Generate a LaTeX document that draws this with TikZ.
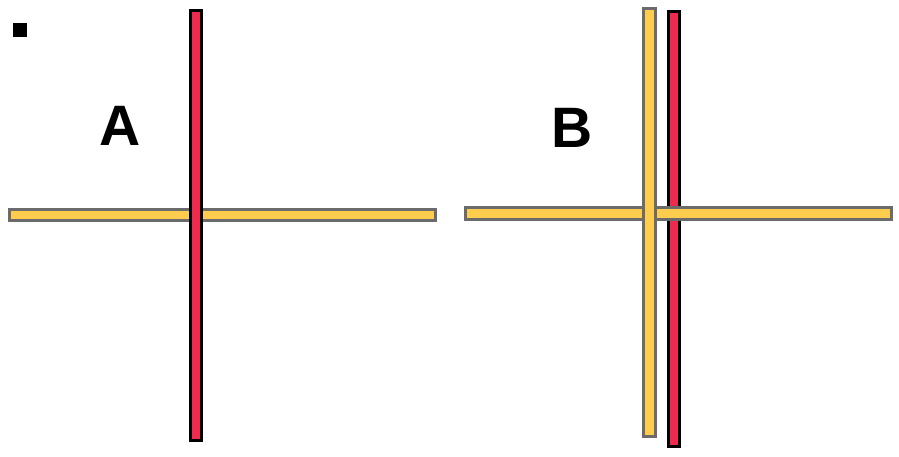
\documentclass[tikz,border=0pt]{standalone}
\usepackage{fontspec}
\setmainfont{Liberation Sans}
\usepackage{tikz}

\definecolor{barYellow}{HTML}{FFCC4D}
\definecolor{barRed}{HTML}{EE2B4F}
\definecolor{rimGray}{HTML}{6B6B6B}

\begin{document}
\begin{tikzpicture}[x=1pt, y=-1pt,
  ybar/.style={draw=rimGray, fill=barYellow, line width=2.6pt},
  rbar/.style={draw=black, fill=barRed, line width=2.6pt},
  letter/.style={font=\fontsize{57}{60}\selectfont\bfseries, inner sep=0pt}
]
\useasboundingbox (0,0) rectangle (899,456);
% marker
\fill[black] (13,23) rectangle (27,37);
% Panel A: red over yellow
\draw[ybar] (9.3,209.3) rectangle (435.7,220.7);
\draw[rbar] (190.3,10.3) rectangle (201.7,440.7);
\node[letter] (labA) at (120,126) {A};
% Panel B: red under yellow, yellow vertical on top
\draw[rbar] (668.3,11.3) rectangle (679.7,446.7);
\draw[ybar] (465.3,207.3) rectangle (891.7,219.7);
\draw[ybar] (643.3,8.3) rectangle (655.7,436.7);
\node[letter] (labB) at (572,128) {B};
\end{tikzpicture}
\end{document}
